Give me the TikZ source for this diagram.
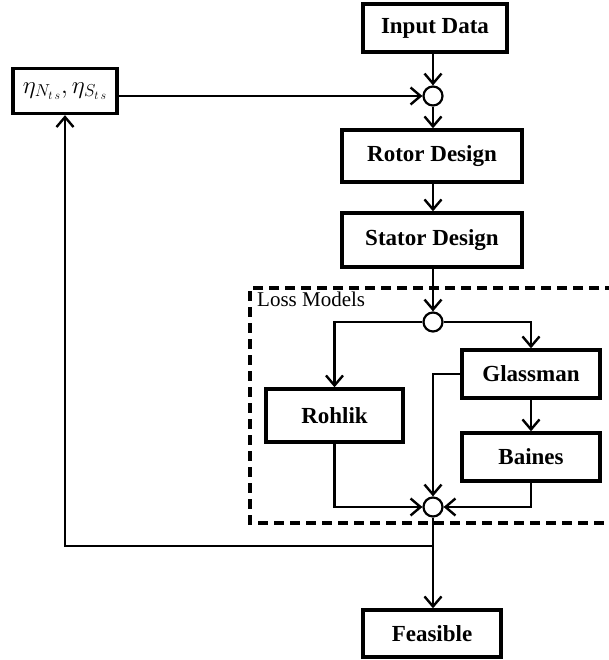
\documentclass[tikz,border=0pt]{standalone}
\usepackage{fontspec}
\setmainfont{Liberation Serif}
\usetikzlibrary{arrows.meta}
\begin{document}
\begin{tikzpicture}[x=1pt,y=-1pt,
  box/.style={draw,line width=3.4pt,minimum width=#1,inner sep=0pt,font=\fontsize{23}{26}\selectfont\bfseries},
  junc/.style={draw,circle,line width=2.2pt,minimum size=19pt,inner sep=0pt},
  conn/.style={line width=2.2pt},
  arr/.style={conn,-{Straight Barb[length=10pt,width=17pt,line width=2.4pt]}}]
\useasboundingbox (0,0) rectangle (608,660);
% boxes
\node[box=144pt,minimum height=48pt] (in) at (435,28) {Input Data};
\node[junc] (c1) at (433,96) {};
\node[box=180pt,minimum height=52pt] (ro) at (432,156) {Rotor Design};
\node[box=180pt,minimum height=54pt] (st) at (432,240) {Stator Design};
\node[box=104pt,minimum height=45pt,font=\fontsize{26}{30}\selectfont] (eta) at (65,91) {$\eta_{N_{t\,s}},\eta_{S_{t\,s}}$};
\node[junc] (c2) at (433,322) {};
\node[box=138pt,minimum height=48pt] (gl) at (531,374) {Glassman};
\node[box=137pt,minimum height=53pt] (rh) at (334.5,415.5) {Rohlik};
\node[box=138pt,minimum height=48pt] (ba) at (531,457) {Baines};
\node[junc] (c3) at (433,507) {};
\node[box=138pt,minimum height=47pt] (fe) at (432,633.5) {Feasible};
\coordinate (j) at (433,546);
\coordinate (fb) at (65,546);
% dashed loss models frame
\draw[line width=3.2pt,dash pattern=on 10pt off 6pt] (615,288) -- (250,288) -- (250,523) -- (615,523);
\node[anchor=north west,inner sep=0pt,font=\fontsize{21}{24}\selectfont] (lm) at (257,292) {Loss Models};
% connectors
\draw[arr] (in.south -| c1) -- (c1.north);
\draw[arr] (eta.east |- c1) -- (c1.west);
\draw[arr] (c1.south) -- (ro.north -| c1);
\draw[arr] (ro.south -| c1) -- (st.north -| c1);
\draw[arr] (st.south -| c2) -- (c2.north);
\draw[arr] (c2.west) -| (rh.north);
\draw[arr] (c2.east) -| (gl.north);
\draw[arr] (gl.south) -- (ba.north);
\draw[arr] (gl.west) -| (c3.north);
\draw[arr] (rh.south) |- (c3.west);
\draw[arr] (ba.south) |- (c3.east);
\draw[conn] (c3.south) -- (j);
\draw[arr] (j) -- (fe.north -| j);
\draw[arr] (j) -- (fb) -- (eta.south);
\end{tikzpicture}
\end{document}
